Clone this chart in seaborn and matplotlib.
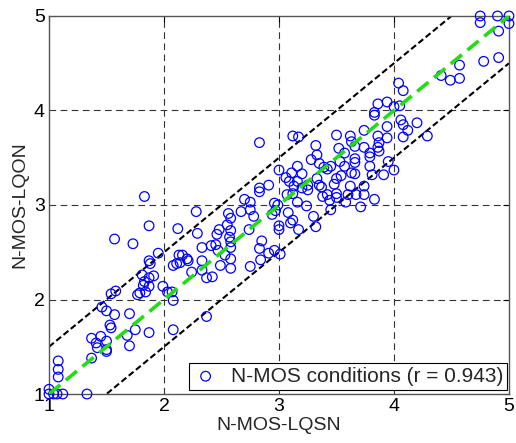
import numpy as np
import pandas as pd
import seaborn as sns
import matplotlib.pyplot as plt

# N-MOS values
lqsn = [
    1.57, 1.73, 1.58, 1.54, 1.77, 1.46, 1.50, 1.57, 1.70, 1.53, 1.54, 1.75, 1.68, 1.37, 1.45, 1.50,
    1.41, 1.42, 1.50, 1.50, 1.70, 1.37, 1.08, 1.08, 1.08, 1.00, 1.00, 1.04, 1.07, 1.12, 1.33,
    1.83, 2.28, 1.87, 2.12, 2.29, 2.46, 2.48, 2.55, 2.56, 2.33, 2.41, 2.45, 2.47, 2.53, 1.95, 1.87,
    1.88, 2.13, 2.16, 2.20, 2.14, 2.11, 2.08, 2.21, 2.33, 2.49, 2.24, 2.33, 2.37, 2.42, 1.81, 1.91,
    1.87, 1.83, 1.87, 1.82, 1.79, 1.84, 1.99, 2.03, 2.07, 2.08, 2.37, 2.08, 1.87,
    2.83, 3.12, 3.17, 3.32, 3.33, 3.28, 3.16, 3.00, 3.11, 3.20, 3.06, 3.09, 3.16, 3.13, 3.25, 3.33,
    3.35, 2.91, 2.83, 2.83, 3.25, 3.20, 3.12, 3.07, 2.70, 2.75, 2.96, 2.99, 3.16, 3.24, 2.67, 2.75,
    2.78, 2.94, 2.97, 3.08, 3.12, 3.30, 3.32, 2.58, 2.58, 2.57, 2.58, 2.58, 2.58, 2.74, 3.00, 3.00,
    3.10, 3.17, 2.85, 2.83, 2.96, 2.91, 2.84, 3.01, 2.75, 2.58, 3.35,
    4.04, 4.08, 3.86, 3.94, 4.00, 4.05, 3.83, 3.83, 4.06, 4.08, 4.12, 3.94, 4.08, 3.94, 3.86, 3.74,
    3.62, 3.50, 3.63, 3.87, 3.86, 3.87, 3.74, 3.66, 3.52, 3.79, 3.79, 3.57, 3.66, 3.53, 3.66, 3.95,
    3.45, 3.39, 3.42, 3.57, 3.79, 4.00, 3.63, 3.66, 3.54, 3.50, 3.81, 3.91, 3.48, 3.62, 3.74, 3.37,
    3.38, 3.42, 3.50, 3.50, 3.44, 3.60, 3.67, 3.74, 3.83, 3.58, 3.71, 3.45,
    4.75, 4.75, 4.90, 5.00, 5.00, 4.91, 4.57, 4.78, 4.91, 4.41, 4.49, 4.57, 4.20, 4.29,
]
lqon = [
    2.64, 2.59, 2.09, 2.06, 2.05, 1.92, 1.88, 1.84, 1.85, 1.73, 1.70, 1.68, 1.62, 1.59, 1.61, 1.56,
    1.54, 1.49, 1.47, 1.45, 1.51, 1.38, 1.35, 1.26, 1.18, 1.05, 1.00, 1.00, 1.00, 1.00, 1.00,
    3.09, 2.93, 2.78, 2.75, 2.70, 2.69, 2.74, 2.79, 2.91, 2.55, 2.57, 2.58, 2.52, 2.47, 2.49, 2.41,
    2.38, 2.47, 2.47, 2.43, 2.39, 2.38, 2.36, 2.41, 2.41, 2.36, 2.29, 2.31, 2.23, 2.24, 2.26, 2.25,
    2.23, 2.19, 2.14, 2.15, 2.07, 2.08, 2.14, 2.08, 2.08, 1.99, 1.82, 1.68, 1.65,
    3.66, 3.73, 3.72, 3.63, 3.53, 3.48, 3.41, 3.37, 3.34, 3.33, 3.29, 3.25, 3.25, 3.20, 3.21, 3.28,
    3.21, 3.21, 3.18, 3.14, 3.16, 3.18, 3.12, 3.11, 3.06, 3.03, 3.02, 3.00, 3.03, 2.99, 2.93, 2.95,
    2.88, 2.90, 2.94, 2.92, 2.84, 2.88, 2.77, 2.86, 2.73, 2.66, 2.61, 2.55, 2.43, 2.74, 2.78, 2.74,
    2.81, 2.74, 2.62, 2.54, 2.52, 2.49, 2.42, 2.48, 2.35, 2.33, 3.44,
    4.29, 4.21, 4.07, 4.09, 4.04, 4.05, 3.98, 3.95, 3.90, 3.85, 3.79, 3.83, 3.72, 3.71, 3.73, 3.79,
    3.73, 3.74, 3.67, 3.66, 3.61, 3.57, 3.61, 3.62, 3.60, 3.55, 3.51, 3.55, 3.49, 3.46, 3.45, 3.46,
    3.41, 3.40, 3.38, 3.41, 3.41, 3.37, 3.34, 3.33, 3.31, 3.28, 3.32, 3.32, 3.22, 3.20, 3.20, 3.19,
    3.09, 3.11, 3.12, 3.08, 3.05, 3.11, 3.11, 3.11, 3.06, 3.03, 2.98, 2.95,
    5.00, 4.93, 5.00, 5.00, 4.92, 4.84, 4.48, 4.52, 4.56, 4.37, 4.32, 4.34, 3.87, 3.73,
]
ticks = [1, 2, 3, 4, 5]
ref_line = [1, 5]
band = 0.5
r_value = 0.943

df = pd.DataFrame({'lqsn': lqsn, 'lqon': lqon})

sns.set_style('white')
plt.rcParams['font.family'] = ['Liberation Sans', 'DejaVu Sans']

fig = plt.figure(figsize=(5.16, 4.43), dpi=100)
ax = fig.add_axes([0.095, 0.1106, 0.8914, 0.8533])

# dashed grid like matlab's grid on
for t in ticks[1:-1]:
    ax.axvline(t, color='#333333', lw=0.8, ls=(0, (6, 4)), zorder=0)
    ax.axhline(t, color='#333333', lw=0.8, ls=(0, (6, 4)), zorder=0)

sns.lineplot(x=ref_line, y=[v + band for v in ref_line], ax=ax, color='black', lw=1.5,
             ls=(0, (3, 1.5)), zorder=2)
sns.lineplot(x=ref_line, y=[v - band for v in ref_line], ax=ax, color='black', lw=1.5,
             ls=(0, (3, 1.5)), zorder=2)

sns.scatterplot(data=df, x='lqsn', y='lqon', ax=ax, marker='o', s=48,
                facecolors='none', edgecolors='blue', linewidth=0.9, clip_on=False, zorder=3,
                label='N-MOS conditions (r = {:.3f})'.format(r_value))

sns.lineplot(x=ref_line, y=ref_line, ax=ax, color='#22dd11', lw=2.6,
             ls=(0, (4, 2)), zorder=4)

ax.set_xlim(1, 5)
ax.set_ylim(1, 5)
ax.set_xticks(ticks)
ax.set_yticks(ticks)
ax.tick_params(direction='in', length=4, labelsize=14, colors='black', top=True, right=True,
               pad=3)
for sp in ax.spines.values():
    sp.set_visible(True)
    sp.set_color('#555555')
    sp.set_linewidth(1.0)

ax.set_xlabel('N-MOS-LQSN', fontsize=14, labelpad=1)
ax.set_ylabel('N-MOS-LQON', fontsize=14, labelpad=4)

leg = ax.legend(loc='lower right', bbox_to_anchor=(0.996, 0.011), borderaxespad=0,
                fancybox=False, edgecolor='black', framealpha=1, fontsize=15,
                handletextpad=0.6, borderpad=0.2, handlelength=1.2)
leg.get_frame().set_linewidth(0.8)

plt.savefig('out.png', dpi=100)
